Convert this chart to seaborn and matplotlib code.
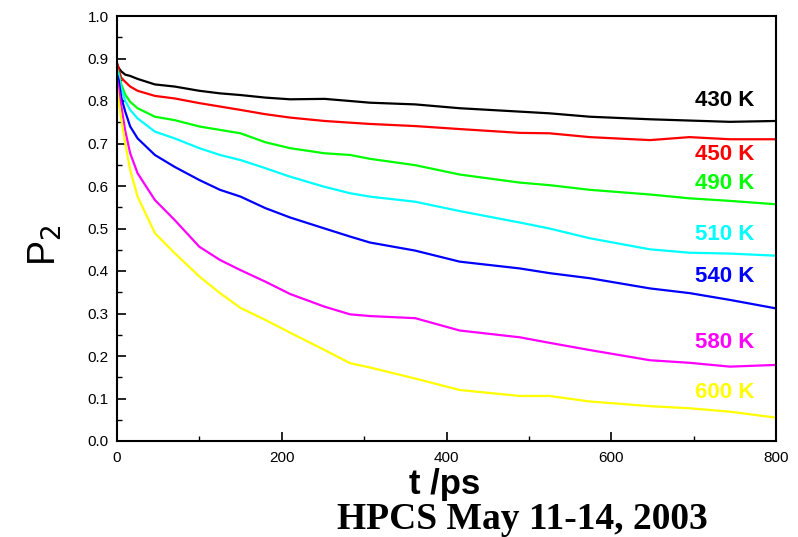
import matplotlib
matplotlib.use("Agg")
import matplotlib.pyplot as plt
import seaborn as sns
import pandas as pd
from matplotlib.ticker import MultipleLocator

# ---- data ----
t_ps = [0, 2, 5, 10, 16, 25, 46, 70, 100, 125, 150, 180, 210, 252, 283, 307,
        362, 416, 489, 525, 574, 647, 695, 744, 800]
p2_430 = [0.888, 0.878, 0.870, 0.862, 0.859, 0.852, 0.839, 0.834, 0.824, 0.818, 0.814, 0.808, 0.804,
          0.805, 0.800, 0.796, 0.792, 0.783, 0.775, 0.771, 0.763, 0.757, 0.754, 0.751, 0.753]
p2_450 = [0.890, 0.875, 0.855, 0.845, 0.834, 0.824, 0.812, 0.806, 0.795, 0.787, 0.779, 0.769, 0.761,
          0.753, 0.749, 0.746, 0.741, 0.734, 0.725, 0.724, 0.715, 0.708, 0.715, 0.710, 0.710]
p2_490 = [0.875, 0.865, 0.840, 0.815, 0.798, 0.783, 0.763, 0.755, 0.740, 0.732, 0.724, 0.703, 0.689,
          0.677, 0.673, 0.664, 0.649, 0.627, 0.608, 0.602, 0.591, 0.580, 0.571, 0.565, 0.557]
p2_510 = [0.875, 0.862, 0.830, 0.800, 0.779, 0.759, 0.728, 0.712, 0.689, 0.673, 0.661, 0.642, 0.622,
          0.598, 0.583, 0.575, 0.563, 0.541, 0.514, 0.500, 0.477, 0.451, 0.443, 0.441, 0.436]
p2_540 = [0.862, 0.850, 0.810, 0.775, 0.740, 0.712, 0.673, 0.645, 0.614, 0.591, 0.575, 0.548, 0.526,
          0.500, 0.481, 0.467, 0.448, 0.422, 0.406, 0.395, 0.383, 0.359, 0.348, 0.332, 0.312]
p2_580 = [0.850, 0.830, 0.790, 0.730, 0.677, 0.630, 0.567, 0.520, 0.457, 0.426, 0.402, 0.375, 0.346,
          0.316, 0.298, 0.294, 0.289, 0.260, 0.244, 0.231, 0.214, 0.190, 0.184, 0.175, 0.179]
p2_600 = [0.835, 0.800, 0.760, 0.700, 0.638, 0.575, 0.489, 0.442, 0.387, 0.348, 0.313, 0.285, 0.255,
          0.214, 0.183, 0.173, 0.147, 0.120, 0.106, 0.106, 0.093, 0.082, 0.077, 0.069, 0.055]

series_names = ["430 K", "450 K", "490 K", "510 K", "540 K", "580 K", "600 K"]
series_values = [p2_430, p2_450, p2_490, p2_510, p2_540, p2_580, p2_600]
series_colors = ["#000000", "#ff0000", "#00ff00", "#00ffff", "#0000ff", "#ff00ff", "#ffff00"]
label_y = [0.800, 0.673, 0.605, 0.487, 0.386, 0.231, 0.113]
label_x = 702

x_ticks = [0, 200, 400, 600, 800]
y_ticks = [0.0, 0.1, 0.2, 0.3, 0.4, 0.5, 0.6, 0.7, 0.8, 0.9, 1.0]

rows = []
for name, vals in zip(series_names, series_values):
    for t, v in zip(t_ps, vals):
        rows.append({"t": t, "P2": v, "T": name})
df = pd.DataFrame(rows)

sns.set_style("white")
plt.rcParams["font.family"] = ["Liberation Sans", "DejaVu Sans"]
plt.rcParams["text.color"] = "black"
plt.rcParams["xtick.color"] = "black"
plt.rcParams["ytick.color"] = "black"

fig = plt.figure(figsize=(7.98, 5.37), dpi=100)
ax = fig.add_axes([117 / 798, 1 - 441 / 537, (776 - 117) / 798, (441 - 16) / 537])

sns.lineplot(data=df, x="t", y="P2", hue="T", hue_order=series_names,
             palette=dict(zip(series_names, series_colors)), estimator=None,
             sort=False, linewidth=1.6, legend=False, ax=ax)

ax.set_xlim(0, 800)
ax.set_ylim(0, 1.0)
ax.set_xticks(x_ticks)
ax.set_xticklabels([str(v) for v in x_ticks])
ax.set_yticks(y_ticks)
ax.set_yticklabels([f"{v:.1f}" for v in y_ticks])
ax.xaxis.set_minor_locator(MultipleLocator(100))
ax.yaxis.set_minor_locator(MultipleLocator(0.05))
ax.tick_params(which="major", direction="in", length=6.5, width=1.2, labelsize=11,
               colors="black", labelcolor="black",
               bottom=True, left=True, top=False, right=False)
ax.tick_params(which="minor", direction="in", length=3.5, width=1.0, colors="black",
               bottom=True, left=True, top=False, right=False)
ax.tick_params(axis="y", pad=6)
ax.tick_params(axis="x", pad=7)
for s in ax.spines.values():
    s.set_visible(True)
    s.set_color("black")
    s.set_linewidth(1.5)
ax.set_xlabel("")
ax.set_ylabel("")

for name, col, y in zip(series_names, series_colors, label_y):
    ax.text(label_x, y, name, color=col, fontsize=16, fontweight="bold",
            ha="left", va="center")

fig.text(45 / 798, 1 - 245 / 537, r"P$_2$", rotation=90, fontsize=27,
         color="black", ha="center", va="center")
fig.text(445 / 798, 1 - 494 / 537, "t /ps", fontsize=25, fontweight="bold",
         color="black", ha="center", va="baseline")
fig.text(522 / 798, 1 - 529 / 537, "HPCS May 11-14, 2003", fontsize=27,
         fontweight="bold", family=["Liberation Serif", "DejaVu Serif"],
         color="black", ha="center", va="baseline")

fig.savefig("out.png", dpi=100)
